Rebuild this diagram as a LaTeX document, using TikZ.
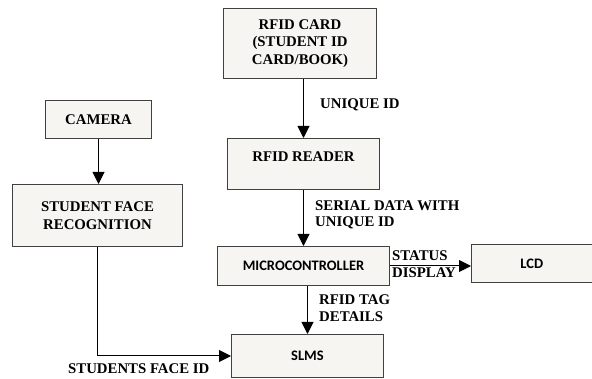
\documentclass[tikz,border=0pt]{standalone}
\usepackage{fontspec}
\setmainfont{Liberation Serif}
\newfontfamily\calfont{Carlito}
\usepackage{xcolor}
\usetikzlibrary{positioning, arrows.meta}
\definecolor{boxgray}{HTML}{F6F5F1}
\tikzset{
  blk/.style={draw=black!75, fill=boxgray, line width=1pt, inner sep=0pt,
    anchor=north west, align=center, font=\bfseries\fontsize{14.8}{17.5}\selectfont},
  sblk/.style={blk, font=\calfont\bfseries\fontsize{14.5}{16}\selectfont},
  lbl/.style={anchor=west, align=left, inner sep=0pt, font=\bfseries\fontsize{14.8}{16.5}\selectfont},
  arr/.style={line width=1pt, -{Triangle[length=12pt,width=12pt]}}
}

\begin{document}
\begin{tikzpicture}[x=1pt,y=-1pt]
\useasboundingbox (0,0) rectangle (592,379);
% blocks
\node[blk, minimum width=153pt, minimum height=70pt] (card) at (223,8) {RFID CARD\\(STUDENT ID\\CARD/BOOK)};
\node[blk, minimum width=152pt, text height=23pt, text depth=28pt] (reader) at (227,138) {RFID READER};
\node[blk, minimum width=106pt, minimum height=38pt] (camera) at (45,100) {CAMERA};
\node[blk, minimum width=170pt, minimum height=62pt] (face) at (12,184) {STUDENT FACE\\RECOGNITION};
\node[sblk, minimum width=172pt, minimum height=39pt] (micro) at (217,246) {MICROCONTROLLER};
\node[sblk, minimum width=120.5pt, minimum height=38pt] (lcd) at (471,244) {LCD};
\node[sblk, minimum width=152pt, minimum height=43pt] (slms) at (231,334) {SLMS};

% connectors
\draw[arr] (card.south -| reader.north) -- (reader.north);
\draw[arr] (reader.south) -- (reader.south |- micro.north);
\draw[arr] (camera.south) -- (camera.south |- face.north);
\draw[arr] (micro.east) -- (micro.east -| lcd.west);
\draw[arr] (micro.south -| slms.north) -- (slms.north);
\draw[arr] (face.south) |- (slms.west);

% labels
\node[lbl] (uid) at (320,105) {UNIQUE ID};
\node[lbl] (serial) at (315,215) {SERIAL DATA WITH\\UNIQUE ID};
\node[lbl] (status) at (392,264) {STATUS\\DISPLAY};
\node[lbl] (tag) at (319,308) {RFID TAG\\DETAILS};
\node[lbl] (faceid) at (68,369) {STUDENTS FACE ID};
\end{tikzpicture}
\end{document}
